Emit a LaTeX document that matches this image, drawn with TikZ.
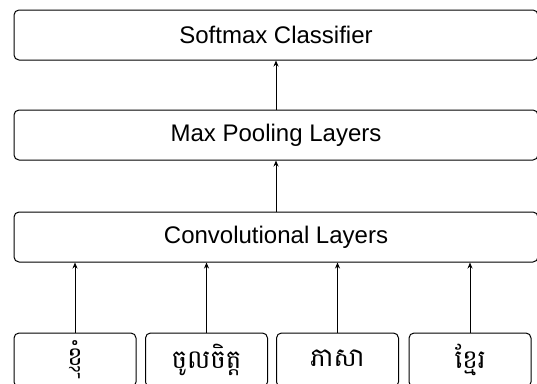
\documentclass[tikz,border=0pt]{standalone}
\usepackage{fontspec}
\setmainfont{Liberation Sans}
\newfontfamily\khmer[Script=Khmer]{Battambang}
\usetikzlibrary{arrows.meta}
\newcommand{\kh}[1]{\raisebox{3pt}{#1}}
\begin{document}
\begin{tikzpicture}[x=1pt,y=1pt,
  layerbox/.style={draw=black, line width=1pt, rounded corners=5pt, minimum height=50pt, inner sep=0pt, font=\fontsize{24}{28}\selectfont},
  wordbox/.style={draw=black, line width=1pt, rounded corners=5pt, minimum width=122pt, minimum height=54pt, inner sep=0pt, font=\khmer\fontsize{26}{30}\selectfont},
  conn/.style={draw=black, line width=1pt, -{Stealth[length=6pt,width=5pt]}}]
\useasboundingbox (0,0) rectangle (537,-383);
\node[layerbox, minimum width=524pt] (soft) at (276,-35) {Softmax Classifier};
\node[layerbox, minimum width=524pt] (pool) at (276,-135) {Max Pooling Layers};
\node[layerbox, minimum width=524pt] (conv) at (276,-237) {Convolutional Layers};
\node[wordbox] (w1) at (75,-360) {\kh{ខ្ញុំ}};
\node[wordbox] (w2) at (206.5,-360) {\kh{ចូលចិត្ត}};
\node[wordbox] (w3) at (337.5,-360) {\kh{ភាសា}};
\node[wordbox] (w4) at (470,-360) {\kh{ខ្មែរ}};
\draw[conn] (pool.north) -- (soft.south);
\draw[conn] (conv.north) -- (pool.south);
\draw[conn] (w1.north) -- (w1.north |- conv.south);
\draw[conn] (w2.north) -- (w2.north |- conv.south);
\draw[conn] (w3.north) -- (w3.north |- conv.south);
\draw[conn] (w4.north) -- (w4.north |- conv.south);
\end{tikzpicture}
\end{document}
